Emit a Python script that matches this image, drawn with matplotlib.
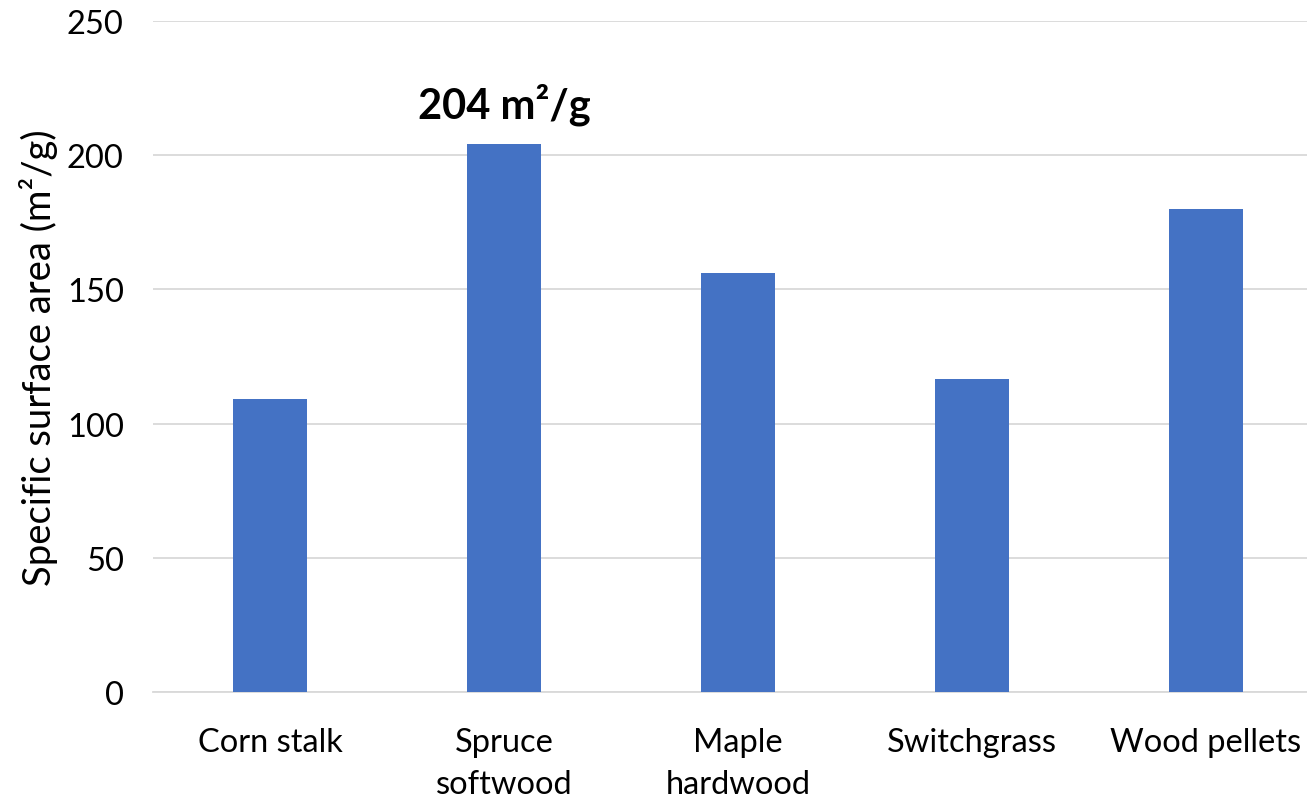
""" Specific surface area bar chart
"""

import matplotlib.pyplot as plt
import numpy as np

categories = ['Corn stalk', 'Spruce\nsoftwood', 'Maple\nhardwood',
              'Switchgrass', 'Wood pellets']
surface_area = [109, 204, 156, 116.5, 180]
y_ticks = [0, 50, 100, 150, 200, 250]
highlight_idx = 1
highlight_text = '204 m²/g'

plt.rcParams['font.family'] = ['Lato', 'DejaVu Sans']

out_dpi = 100
fig = plt.figure(figsize=(1307/out_dpi, 804/out_dpi), dpi=out_dpi)
# axes runs slightly past the right edge, as in the original crop
ax = fig.add_axes([153/1307, (804-693)/804, 1170/1307, 671/804])

x = np.arange(len(categories))
ax.bar(x, surface_area, width=0.314, color='#4472C4', zorder=3)

ax.set_xlim(-0.5, len(categories) - 0.5)
ax.set_ylim(0, 250)
ax.set_yticks(y_ticks)
ax.set_xticks(x)
ax.set_xticklabels(categories, fontsize=23.5, linespacing=1.5)
ax.tick_params(axis='y', labelsize=23.5, length=0, pad=21)
ax.tick_params(axis='x', length=0, pad=25)

ax.grid(axis='y', color='#D9D9D9', linewidth=1.3, zorder=0)
for side in ['top', 'right', 'left']:
    ax.spines[side].set_visible(False)
ax.spines['bottom'].set_color('#D9D9D9')
ax.spines['bottom'].set_linewidth(1.3)

ax.set_ylabel('Specific surface area (m²/g)', fontsize=27.5, labelpad=6)

ax.annotate(
    highlight_text,
    xy=(x[highlight_idx], surface_area[highlight_idx]),
    xytext=(0, 29), textcoords='offset points',
    ha='center', va='center', fontsize=30, fontweight='bold'
)

plt.savefig('out.png', dpi=out_dpi)
